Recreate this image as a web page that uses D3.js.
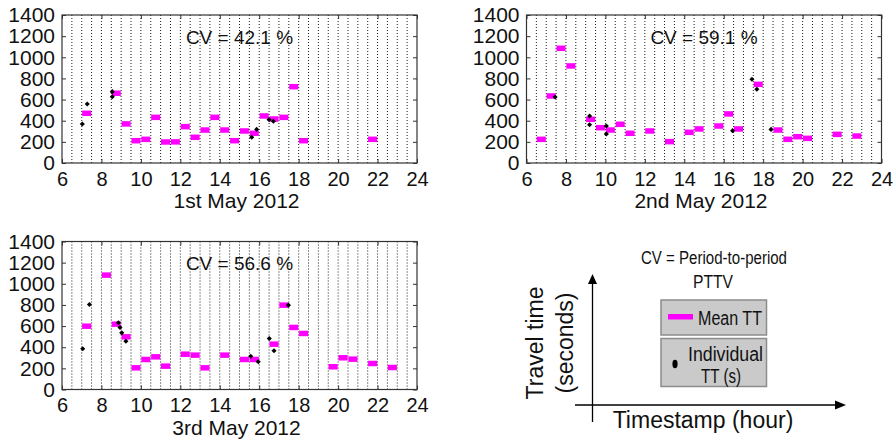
<!DOCTYPE html>
<html>
<head>
<meta charset="utf-8">
<script src="https://cdn.jsdelivr.net/npm/d3@7"></script>
<style>
  body { margin: 0; background: #fff; }
  svg text { font-family: "Liberation Sans", Arial, sans-serif; fill: #111; }
</style>
</head>
<body>
<div id="chart"></div>
<script>
// hour ticks and value ticks shared by the three days
let hourTicks = [6, 8, 10, 12, 14, 16, 18, 20, 22, 24];
let ttTicks = [0, 200, 400, 600, 800, 1000, 1200, 1400];
let dayLabels = ["1st May 2012", "2nd May 2012", "3rd May 2012"];
let cvLabels = ["CV = 42.1 %", "CV = 59.1 %", "CV = 56.6 %"];

// mean TT per half-hour period: [period start (h), seconds]
let mean1 = [[7, 470], [8.5, 660], [9, 370], [9.5, 211], [10, 224], [10.5, 432], [11, 199], [11.5, 200],
  [12, 344], [12.5, 243], [13, 312], [13.5, 432], [14, 312], [14.5, 211], [15, 303], [15.5, 281],
  [16, 445], [16.5, 416], [17, 432], [17.5, 722], [18, 211], [21.5, 224]];
let mean2 = [[6.5, 224], [7, 634], [7.5, 1085], [8, 918], [9, 413], [9.5, 334], [10, 312], [10.5, 366],
  [11, 281], [12, 303], [13, 202], [14, 290], [14.5, 322], [15.5, 350], [16, 464], [16.5, 322],
  [17.5, 744], [18.5, 312], [19, 224], [19.5, 249], [20, 233], [21.5, 271], [22.5, 255]];
let mean3 = [[7, 599], [8, 1082], [8.5, 618], [9, 498], [9.5, 205], [10, 284], [10.5, 309], [11, 221],
  [12, 334], [12.5, 325], [13, 205], [14, 325], [15, 284], [15.5, 284], [16.5, 429], [17, 798],
  [17.5, 587], [18, 530], [19.5, 215], [20, 300], [20.5, 287], [21.5, 246], [22.5, 208]];

// individual travel times: [hour, seconds]
let indiv1 = [[7.03, 369], [7.28, 558], [8.55, 675], [8.55, 627], [15.62, 243], [15.87, 318],
  [16.5, 410], [16.72, 395]];
let indiv2 = [[7.45, 625], [9.2, 445], [9.2, 362], [10.05, 350], [10.05, 274], [16.45, 306],
  [17.43, 792], [17.68, 697], [18.4, 318]];
let indiv3 = [[7.05, 385], [7.39, 804], [8.86, 631], [8.94, 587], [9.03, 536], [9.24, 457],
  [15.57, 315], [15.95, 262], [16.51, 483], [16.75, 366], [17.48, 798]];

let svg = d3.select("#chart").append("svg")
  .attr("width", 893)
  .attr("height", 439);

function dayPanel(left, top, means, indiv, cvText, dayText) {
  let width = 355,
    height = 148;

  let x = d3.scaleLinear().domain([6, 24]).range([0, width]);
  let y = d3.scaleLinear().domain([0, 1400]).range([height, 0]);

  let g = svg.append("g")
    .attr("transform", "translate(" + left + "," + top + ")");

  // dotted half-hour grid
  g.append("g")
    .selectAll("line")
    .data(d3.range(6.5, 24, 0.5))
    .join("line")
    .attr("x1", d => x(d)).attr("x2", d => x(d))
    .attr("y1", 0).attr("y2", height)
    .attr("stroke", "#000")
    .attr("stroke-width", 0.9)
    .attr("stroke-dasharray", "1,2");

  let xAxis = g.append("g")
    .attr("transform", "translate(0," + height + ")")
    .call(d3.axisBottom(x).tickValues(hourTicks).tickSizeInner(-4).tickSizeOuter(0).tickPadding(8.5));
  let yAxis = g.append("g")
    .call(d3.axisLeft(y).tickValues(ttTicks).tickFormat(d3.format("d"))
      .tickSizeInner(-4).tickSizeOuter(0).tickPadding(7));
  g.append("g")
    .call(d3.axisTop(x).tickValues(hourTicks).tickSizeInner(-4).tickSizeOuter(0).tickFormat(""));
  g.append("g")
    .attr("transform", "translate(" + width + ",0)")
    .call(d3.axisRight(y).tickValues(ttTicks).tickSizeInner(-4).tickSizeOuter(0).tickFormat(""));

  g.selectAll(".domain").remove();
  g.selectAll(".tick line").attr("stroke", "#333");
  xAxis.selectAll("text").style("font-size", "20px").style("font-family", "Liberation Sans, Arial, sans-serif");
  yAxis.selectAll("text").style("font-size", "21px").style("font-family", "Liberation Sans, Arial, sans-serif");

  g.append("rect")
    .attr("width", width)
    .attr("height", height)
    .attr("fill", "none")
    .attr("stroke", "#333")
    .attr("stroke-width", 1.2);

  g.append("text")
    .attr("x", width / 2)
    .attr("y", 22)
    .attr("text-anchor", "middle")
    .attr("dominant-baseline", "central")
    .style("font-size", "19px")
    .text(cvText);

  g.append("text")
    .attr("x", width / 2 - 3)
    .attr("y", height + 37.5)
    .attr("text-anchor", "middle")
    .attr("dominant-baseline", "central")
    .style("font-size", "21px")
    .text(dayText);

  g.append("g")
    .selectAll("rect")
    .data(means)
    .join("rect")
    .attr("x", d => x(d[0] + 0.02))
    .attr("width", d => x(d[0] + 0.48) - x(d[0] + 0.02))
    .attr("y", d => y(d[1]) - 2.75)
    .attr("height", 5.5)
    .attr("fill", "#f0f");

  g.append("g")
    .selectAll("path")
    .data(indiv)
    .join("path")
    .attr("transform", d => "translate(" + x(d[0]) + "," + y(d[1]) + ") rotate(45)")
    .attr("d", d3.symbol(d3.symbolSquare, 13))
    .attr("fill", "#000");
}

dayPanel(62, 15, mean1, indiv1, cvLabels[0], dayLabels[0]);
dayPanel(526.5, 15, mean2, indiv2, cvLabels[1], dayLabels[1]);
dayPanel(62, 241.5, mean3, indiv3, cvLabels[2], dayLabels[2]);

// explanatory sketch (bottom right)
let key = svg.append("g");

key.append("line")
  .attr("x1", 592.5).attr("x2", 592.5)
  .attr("y1", 422).attr("y2", 283)
  .attr("stroke", "#000").attr("stroke-width", 1.3);
key.append("path")
  .attr("d", "M592.5,274 L588,284 L597,284 Z")
  .attr("fill", "#000");
key.append("line")
  .attr("x1", 575).attr("x2", 836)
  .attr("y1", 405).attr("y2", 405)
  .attr("stroke", "#000").attr("stroke-width", 1.3);
key.append("path")
  .attr("d", "M846,405 L835,400.5 L835,409.5 Z")
  .attr("fill", "#000");

key.append("text")
  .attr("transform", "translate(535,343) rotate(-90)")
  .attr("text-anchor", "middle")
  .attr("dominant-baseline", "central")
  .style("font-size", "23px")
  .text("Travel time");
key.append("text")
  .attr("transform", "translate(565,343) rotate(-90)")
  .attr("text-anchor", "middle")
  .attr("dominant-baseline", "central")
  .style("font-size", "23px")
  .text("(seconds)");
key.append("text")
  .attr("x", 703).attr("y", 420)
  .attr("text-anchor", "middle")
  .attr("dominant-baseline", "central")
  .style("font-size", "23px")
  .text("Timestamp (hour)");

key.append("text")
  .attr("x", 641).attr("y", 258)
  .attr("dominant-baseline", "central")
  .attr("textLength", 146)
  .attr("lengthAdjust", "spacingAndGlyphs")
  .style("font-size", "18px")
  .text("CV = Period-to-period");
key.append("text")
  .attr("x", 713).attr("y", 282)
  .attr("text-anchor", "middle")
  .attr("dominant-baseline", "central")
  .attr("textLength", 40)
  .attr("lengthAdjust", "spacingAndGlyphs")
  .style("font-size", "18px")
  .text("PTTV");

let boxes = [[300, 35], [338.5, 48]];
key.append("g")
  .selectAll("rect")
  .data(boxes)
  .join("rect")
  .attr("x", 661)
  .attr("y", d => d[0])
  .attr("width", 105.5)
  .attr("height", d => d[1])
  .attr("fill", "#cacaca")
  .attr("stroke", "#8c8c8c")
  .attr("stroke-width", 1.5);

key.append("rect")
  .attr("x", 668).attr("y", 314)
  .attr("width", 25).attr("height", 5.5)
  .attr("fill", "#f0f");
key.append("text")
  .attr("x", 698).attr("y", 318)
  .attr("dominant-baseline", "central")
  .attr("textLength", 64)
  .attr("lengthAdjust", "spacingAndGlyphs")
  .style("font-size", "20px")
  .text("Mean TT");

key.append("ellipse")
  .attr("cx", 675).attr("cy", 364)
  .attr("rx", 2.6).attr("ry", 4.2)
  .attr("fill", "#000");
key.append("text")
  .attr("x", 688).attr("y", 354)
  .attr("dominant-baseline", "central")
  .attr("textLength", 75)
  .attr("lengthAdjust", "spacingAndGlyphs")
  .style("font-size", "20px")
  .text("Individual");
key.append("text")
  .attr("x", 721).attr("y", 376)
  .attr("text-anchor", "middle")
  .attr("dominant-baseline", "central")
  .attr("textLength", 40)
  .attr("lengthAdjust", "spacingAndGlyphs")
  .style("font-size", "20px")
  .text("TT (s)");
</script>
</body>
</html>
